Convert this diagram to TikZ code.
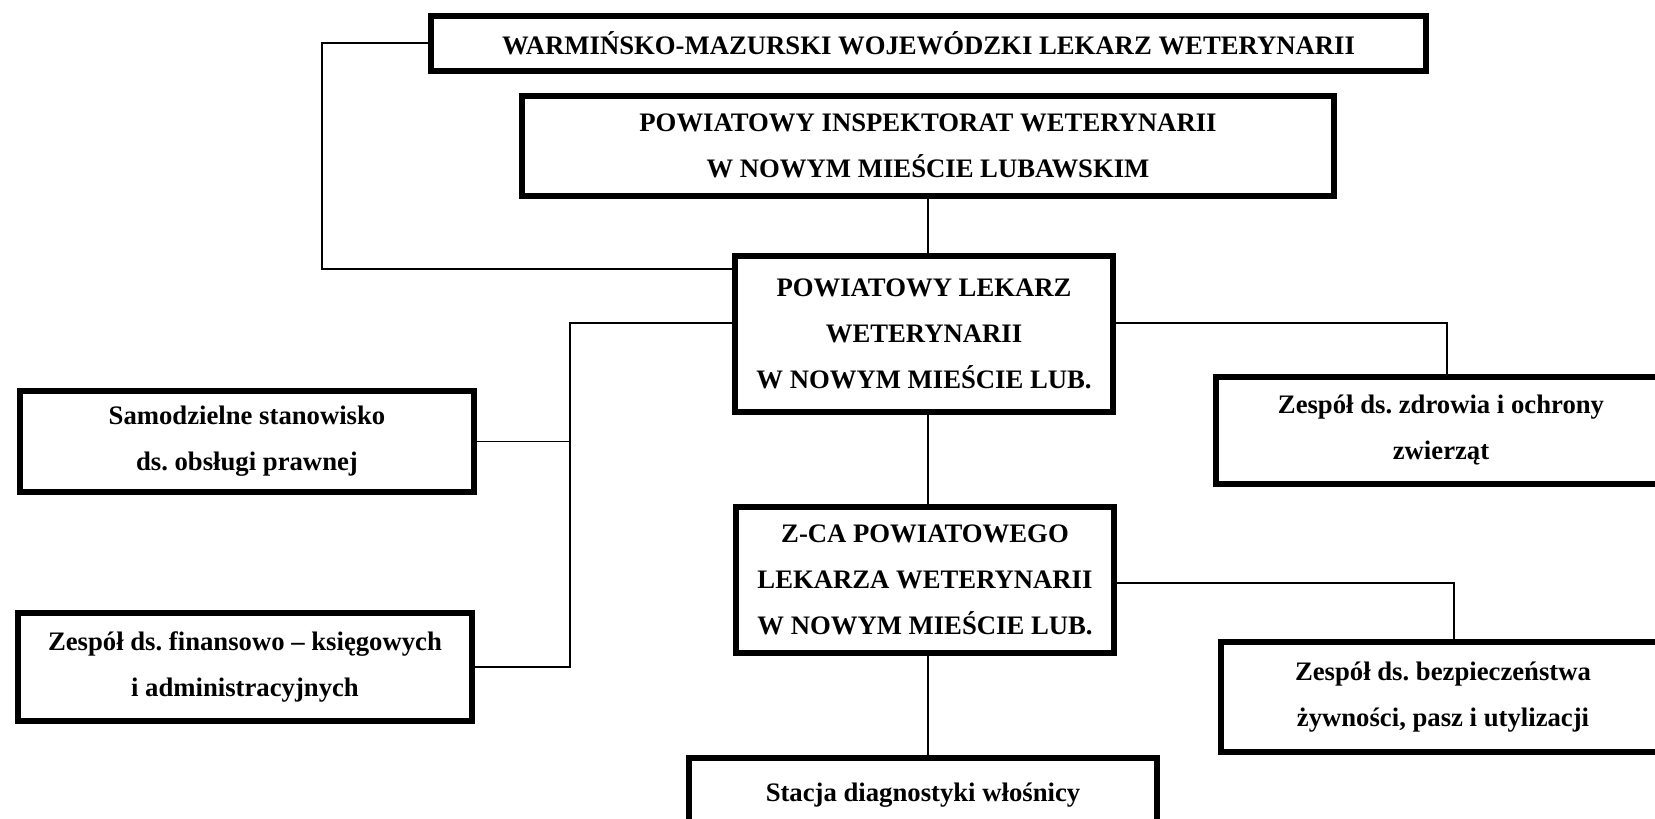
\documentclass[tikz,border=0pt]{standalone}
\usepackage{fontspec}
\setmainfont{Liberation Serif}
\usepackage{tikz}
\usetikzlibrary{positioning, calc}
\tikzset{
	unit/.style ={rectangle, draw=black, line width=6pt, align=center, inner sep=0pt, font=\fontsize{26.7}{46}\selectfont\bfseries\frenchspacing},
	link/.style ={line width=1.6pt},
}
\begin{document}
\begin{tikzpicture}[x=1pt, y=-1pt]
	\useasboundingbox (0,0) rectangle (1655,819);
	\node[unit, minimum width=995, minimum height=55] (wlw) at (928.5,43) {WARMIŃSKO-MAZURSKI WOJEWÓDZKI LEKARZ WETERYNARII};
	\node[unit, minimum width=812, minimum height=100] (piw) at (928,146) {POWIATOWY INSPEKTORAT WETERYNARII\\ W NOWYM MIEŚCIE LUBAWSKIM};
	\node[unit, minimum width=378, minimum height=156] (plw) at (924,334) {POWIATOWY LEKARZ\\ WETERYNARII\\ W NOWYM MIEŚCIE LUB.};
	\node[unit, minimum width=378, minimum height=146] (zca) at (925,580) {Z-CA POWIATOWEGO\\ LEKARZA WETERYNARII\\ W NOWYM MIEŚCIE LUB.};
	\node[unit, minimum width=454, minimum height=101] (samo) at (247,441.5) {Samodzielne stanowisko\\ ds. obsługi prawnej};
	\node[unit, minimum width=454, minimum height=108] (fin) at (245,667) {Zespół ds. finansowo – księgowych\\ i administracyjnych};
	\node[unit, minimum width=450, minimum height=107] (zdr) at (1441,430.5) {Zespół ds. zdrowia i ochrony\\ zwierząt};
	\node[unit, minimum width=444, minimum height=110] (bezp) at (1443,697) {Zespół ds. bezpieczeństwa\\ żywności, pasz i utylizacji};
	\node[unit, minimum width=468, minimum height=74] (stac) at (923,795) {Stacja diagnostyki włośnicy};
	% bus lines
	\coordinate (wbus) at (322,269);
	\coordinate (lbus) at (570,323);
	\coordinate (rbus) at (1447,323);
	\coordinate (zbus) at (1454,583);
	\draw[link] (wlw.west) -| (wbus) -- (wbus -| plw.west);
	\draw[link] (piw.south) -- (piw.south |- plw.north);
	\draw[link] (lbus -| plw.west) -- (lbus) |- (fin.east);
	\draw[link] (samo.east) -- (samo.east -| lbus);
	\draw[link] (rbus -| plw.east) -- (rbus) -- (rbus |- zdr.north);
	\draw[link] (zbus -| zca.east) -- (zbus) -- (zbus |- bezp.north);
	\draw[link] (plw.south -| piw.south) -- (zca.north -| piw.south);
	\draw[link] (zca.south -| piw.south) -- (stac.north -| piw.south);
\end{tikzpicture}
\end{document}
